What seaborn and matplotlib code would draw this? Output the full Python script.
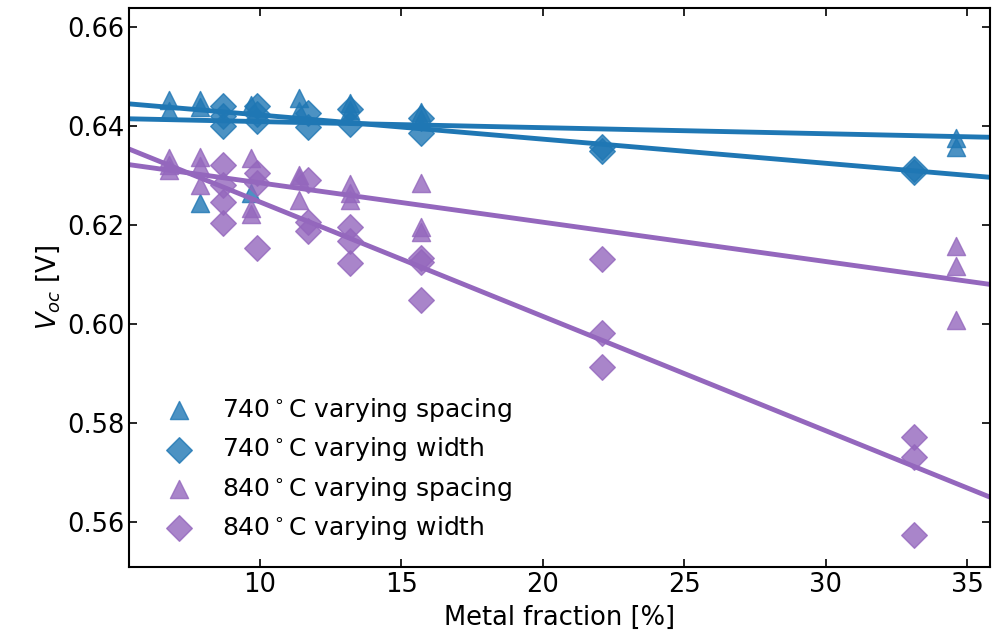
import numpy as np
import pandas as pd
import matplotlib
matplotlib.use("Agg")
import matplotlib.pyplot as plt
import seaborn as sns

# 740 C, varying spacing (triangles)
x_740_spacing = [6.8, 6.8, 7.9, 7.9, 7.9, 9.7, 9.7, 11.4, 11.4, 13.2, 13.2, 15.7, 15.7, 34.6, 34.6]
v_740_spacing = [0.6452, 0.6430, 0.6452, 0.6438, 0.6245, 0.6442, 0.6265, 0.6457, 0.6430, 0.6446, 0.6432, 0.6428, 0.6414, 0.6375, 0.6358]

# 740 C, varying width (diamonds)
x_740_width = [8.7, 8.7, 8.7, 9.9, 9.9, 9.9, 11.7, 11.7, 13.2, 13.2, 15.7, 15.7, 22.1, 22.1, 33.1, 33.1]
v_740_width = [0.6440, 0.6420, 0.6400, 0.6440, 0.6425, 0.6410, 0.6426, 0.6398, 0.6435, 0.6405, 0.6416, 0.6386, 0.6357, 0.6350, 0.6313, 0.6308]

# 840 C, varying spacing (triangles)
x_840_spacing = [6.8, 6.8, 6.8, 7.9, 7.9, 7.9, 9.7, 9.7, 9.7, 11.4, 11.4, 11.4, 13.2, 13.2, 13.2, 15.7, 15.7, 15.7, 34.6, 34.6, 34.6]
v_840_spacing = [0.6335, 0.6321, 0.6311, 0.6338, 0.6320, 0.6280, 0.6335, 0.6234, 0.6222, 0.6300, 0.6294, 0.6251, 0.6283, 0.6265, 0.6250, 0.6285, 0.6196, 0.6186, 0.6158, 0.6117, 0.6008]

# 840 C, varying width (diamonds)
x_840_width = [8.7, 8.7, 8.7, 8.7, 9.9, 9.9, 9.9, 11.7, 11.7, 11.7, 13.2, 13.2, 13.2, 15.7, 15.7, 15.7, 22.1, 22.1, 22.1, 33.1, 33.1, 33.1]
v_840_width = [0.6321, 0.6281, 0.6246, 0.6204, 0.6305, 0.6285, 0.6154, 0.6290, 0.6206, 0.6188, 0.6196, 0.6167, 0.6124, 0.6133, 0.6125, 0.6048, 0.6131, 0.5982, 0.5913, 0.5772, 0.5731, 0.5574]

labels = ['740$^\\circ$C varying spacing', '740$^\\circ$C varying width',
          '840$^\\circ$C varying spacing', '840$^\\circ$C varying width']

blue = '#1f77b4'
purple = '#9467bd'

sns.set_style('ticks')
plt.rcParams['font.family'] = ['DejaVu Sans']
plt.rcParams['mathtext.fontset'] = 'dejavusans'
plt.rcParams['text.color'] = 'black'
plt.rcParams['axes.labelcolor'] = 'black'
plt.rcParams['xtick.color'] = 'black'
plt.rcParams['ytick.color'] = 'black'
plt.rcParams['axes.edgecolor'] = 'black'

fig = plt.figure(figsize=(9.95, 6.34), dpi=100)
ax = fig.add_axes([0.13, 0.106, 0.865, 0.881])
ax.set_xlim(5.4, 35.8)
ax.set_ylim(0.5509, 0.6638)

series = [
    (x_740_spacing, v_740_spacing, blue, '^', 170, labels[0]),
    (x_740_width, v_740_width, blue, 'D', 170, labels[1]),
    (x_840_spacing, v_840_spacing, purple, '^', 170, labels[2]),
    (x_840_width, v_840_width, purple, 'D', 170, labels[3]),
]

for xs, ys, col, mk, sz, lab in series:
    df = pd.DataFrame({'x': xs, 'y': ys})
    sns.regplot(data=df, x='x', y='y', ax=ax, ci=None, truncate=False,
                marker=mk, color=col, label=lab,
                scatter_kws={'s': sz, 'alpha': 0.8, 'edgecolor': col, 'linewidths': 1},
                line_kws={'lw': 3.5})

ax.set_xlim(5.4, 35.8)
ax.set_ylim(0.5509, 0.6638)
ax.set_xticks([10, 15, 20, 25, 30, 35])
ax.set_yticks([0.56, 0.58, 0.60, 0.62, 0.64, 0.66])
ax.tick_params(direction='in', top=True, right=True, labelsize=18.5, length=6, width=1.2)
for sp in ax.spines.values():
    sp.set_linewidth(1.5)

ax.set_xlabel('Metal fraction [%]', fontsize=18.5, labelpad=5)
ax.set_ylabel('$V_{oc}$ [V]', fontsize=18.5)

ax.legend(loc='lower left', frameon=False, fontsize=18, handletextpad=0.7,
          borderaxespad=0.6, labelspacing=0.45)

fig.savefig('out.png', dpi=100)
